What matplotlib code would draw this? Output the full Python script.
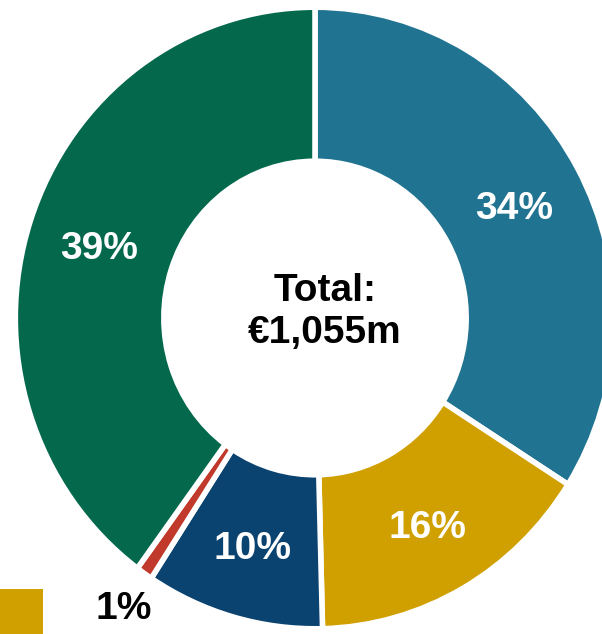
import numpy as np
import matplotlib
matplotlib.use('Agg')
import matplotlib.pyplot as plt
from matplotlib.patches import Rectangle

plt.rcParams['font.family'] = ['Liberation Sans', 'DejaVu Sans']

# Dados (ordem horaria a partir do topo)
categorias = ['Segmento A', 'Segmento B', 'Segmento C', 'Segmento D', 'Segmento E']
valores = [34.0, 15.6, 9.6, 0.9, 39.9]
rotulos = ['34%', '16%', '10%', '1%', '39%']
cores = ['#217491', '#D0A000', '#0A4270', '#C0392B', '#04684D']
texto_total = 'Total:\n€1,055m'

# Geometria em pixels da imagem de referencia
LARG, ALT = 602, 634
CX, CY = 315, 318          # centro do anel
RX, RY = 297, 308          # raio externo (ligeiramente esticado na vertical)

fig = plt.figure(figsize=(LARG / 100, ALT / 100), dpi=100)
ax = fig.add_axes([0, 0, 1, 1])

wedges, _ = ax.pie(valores, colors=cores, startangle=90, counterclock=False,
                   radius=1.009, center=(0, 0), frame=True,
                   wedgeprops=dict(width=0.5, edgecolor='white', linewidth=4))
ax.set_xlim(-CX / RX, (LARG - CX) / RX)
ax.set_ylim(-(ALT - CY) / RY, CY / RY)
ax.set_aspect('auto')
ax.axis('off')

# Rotulos de percentagem
for w, rot in zip(wedges, rotulos):
    ang = np.deg2rad((w.theta1 + w.theta2) / 2)
    if rot == '1%':
        r, cor = 1.13, 'black'
    else:
        r, cor = 0.765, 'white'
    ax.text(r * np.cos(ang), r * np.sin(ang) - 0.015, rot, ha='center', va='center',
            fontsize=28, fontweight='bold', color=cor)

ax.text(0.034, 0.02, texto_total, ha='center', va='center',
        fontsize=28, fontweight='bold', color='black', linespacing=1.2)

# Quadrado de legenda cortado no canto inferior esquerdo
fig.patches.append(Rectangle((0, 0), 43 / LARG, 45 / ALT, transform=fig.transFigure,
                             facecolor=cores[1], edgecolor='none'))

fig.savefig('out.png', dpi=100)
